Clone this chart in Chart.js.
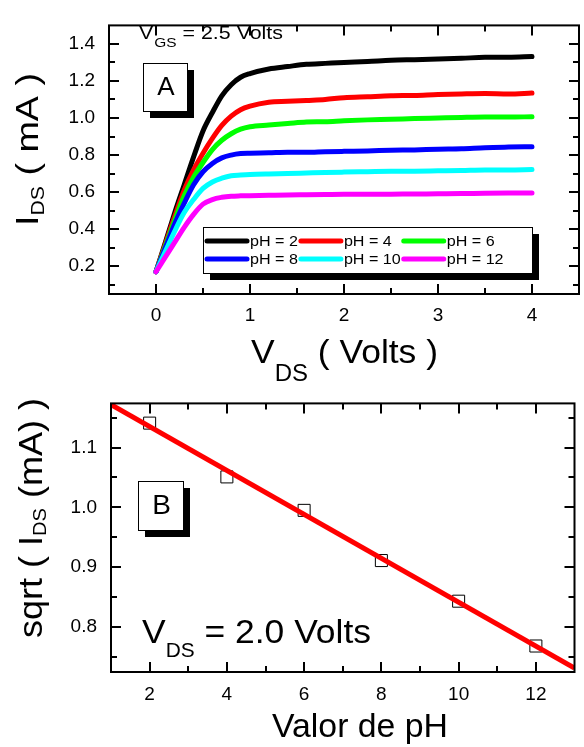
<!DOCTYPE html>
<html>
<head>
<meta charset="utf-8">
<script src="https://cdn.jsdelivr.net/npm/chart.js@4.4.1/dist/chart.umd.min.js"></script>
<style>
  html, body { margin: 0; padding: 0; background: #fff; }
  #wrap { position: relative; width: 584px; height: 747px; overflow: hidden; }
  canvas { position: absolute; left: 0; }
</style>
</head>
<body>
<div id="wrap">
  <canvas id="chartA" width="584" height="390" style="top:0px"></canvas>
  <canvas id="chartB" width="584" height="369" style="top:378px"></canvas>
</div>
<script>
// ---- panel A : I_DS vs V_DS for each pH ----
const vdsVolts = [0, 0.1, 0.2, 0.3, 0.4, 0.5, 0.6, 0.7, 0.8, 0.9, 1.0, 1.2, 1.4, 1.6, 1.8, 2.0, 2.25, 2.5, 2.75, 3.0, 3.25, 3.5, 3.75, 4.0];
const idsPH2  = [0.17, 0.33, 0.49, 0.64, 0.79, 0.93, 1.03, 1.12, 1.18, 1.22, 1.24, 1.265, 1.278, 1.29, 1.295, 1.30, 1.305, 1.312, 1.315, 1.318, 1.322, 1.328, 1.328, 1.332];
const idsPH4  = [0.17, 0.32, 0.47, 0.61, 0.72, 0.81, 0.89, 0.96, 1.01, 1.045, 1.064, 1.085, 1.09, 1.095, 1.10, 1.11, 1.115, 1.12, 1.122, 1.127, 1.13, 1.132, 1.13, 1.135];
const idsPH6  = [0.17, 0.31, 0.45, 0.58, 0.68, 0.76, 0.83, 0.88, 0.915, 0.94, 0.953, 0.962, 0.97, 0.978, 0.98, 0.985, 0.99, 0.993, 0.997, 1.0, 1.003, 1.005, 1.005, 1.007];
const idsPH8  = [0.17, 0.30, 0.43, 0.54, 0.64, 0.71, 0.755, 0.785, 0.80, 0.808, 0.81, 0.812, 0.815, 0.815, 0.818, 0.82, 0.822, 0.826, 0.828, 0.832, 0.834, 0.84, 0.843, 0.845];
const idsPH10 = [0.17, 0.28, 0.39, 0.49, 0.56, 0.62, 0.655, 0.675, 0.688, 0.692, 0.695, 0.698, 0.70, 0.703, 0.706, 0.708, 0.71, 0.712, 0.713, 0.715, 0.717, 0.72, 0.72, 0.722];
const idsPH12 = [0.17, 0.25, 0.33, 0.41, 0.48, 0.535, 0.56, 0.572, 0.578, 0.58, 0.581, 0.583, 0.585, 0.586, 0.587, 0.588, 0.588, 0.589, 0.59, 0.591, 0.592, 0.594, 0.595, 0.595];
const seriesLabels = ["pH = 2", "pH = 4", "pH = 6", "pH = 8", "pH = 10", "pH = 12"];

const vdsTicks = [0, 1, 2, 3, 4];
const vdsMinor = [0.5, 1.5, 2.5, 3.5];
const idsTicks = [0.2, 0.4, 0.6, 0.8, 1.0, 1.2, 1.4];
const idsMinor = [0.1, 0.3, 0.5, 0.7, 0.9, 1.1, 1.3];

// ---- panel B : sqrt(I_DS) vs pH ----
const phValues = [2, 4, 6, 8, 10, 12];
const sqrtIds  = [1.141, 1.051, 0.995, 0.911, 0.843, 0.768];
const fitPH    = [1, 13];
const fitSqrt  = [1.172, 0.731];

const phTicks   = [2, 4, 6, 8, 10, 12];
const phMinor   = [3, 5, 7, 9, 11];
const sqrtTicks = [0.8, 0.9, 1.0, 1.1];
const sqrtMinor = [0.75, 0.85, 0.95, 1.05, 1.15];

const FONT = '"Liberation Sans", Arial, Helvetica, sans-serif';
Chart.defaults.font.family = FONT;
Chart.defaults.color = "#000";

function fixedTicks(values) {
  return function (axis) { axis.ticks = values.map(v => ({ value: v })); };
}

// text made of pieces: [text, size, baseline shift]; stretched to a given length
function drawRich(ctx, parts, x, y, length, rotate) {
  ctx.save();
  ctx.translate(x, y);
  if (rotate) ctx.rotate(-Math.PI / 2);
  let w = 0;
  parts.forEach(p => { ctx.font = p[1] + "px " + FONT; w += ctx.measureText(p[0]).width; });
  ctx.scale(length / w, 1);
  ctx.fillStyle = "#000";
  ctx.textAlign = "left";
  ctx.textBaseline = "alphabetic";
  let cx = 0;
  parts.forEach(p => {
    ctx.font = p[1] + "px " + FONT;
    ctx.fillText(p[0], cx, p[2] || 0);
    cx += ctx.measureText(p[0]).width;
  });
  ctx.restore();
}

function shadowBox(ctx, x, y, w, h, off) {
  ctx.fillStyle = "#000";
  ctx.fillRect(x + off, y + off, w, h);
  ctx.fillStyle = "#fff";
  ctx.fillRect(x, y, w, h);
  ctx.strokeStyle = "#000";
  ctx.lineWidth = 1;
  ctx.strokeRect(x + 0.5, y + 0.5, w, h);
}

function boxLetter(ctx, letter, x, y, w, h, size) {
  shadowBox(ctx, x, y, w, h, 7);
  ctx.fillStyle = "#000";
  ctx.font = size + "px " + FONT;
  ctx.textAlign = "center";
  ctx.textBaseline = "middle";
  ctx.fillText(letter, x + w / 2 + 1, y + h / 2 + 1);
}

// frame on 4 sides with inward major/minor ticks
function makeFrame(xMajor, xMinor, yMajor, yMinor) {
  return {
    id: "frame",
    afterDatasetsDraw(chart) {
      const { ctx, chartArea: a, scales: { x, y } } = chart;
      ctx.save();
      ctx.strokeStyle = "#000";
      ctx.lineWidth = 2;
      ctx.strokeRect(a.left, a.top, a.right - a.left, a.bottom - a.top);
      ctx.beginPath();
      const xm = (vals, len) => vals.forEach(v => {
        const p = Math.round(x.getPixelForValue(v));
        ctx.moveTo(p, a.bottom); ctx.lineTo(p, a.bottom - len);
        ctx.moveTo(p, a.top); ctx.lineTo(p, a.top + len);
      });
      const ym = (vals, len) => vals.forEach(v => {
        const p = Math.round(y.getPixelForValue(v));
        ctx.moveTo(a.left, p); ctx.lineTo(a.left + len, p);
        ctx.moveTo(a.right, p); ctx.lineTo(a.right - len, p);
      });
      xm(xMajor, 10); xm(xMinor, 6);
      ym(yMajor, 10); ym(yMinor, 6);
      ctx.stroke();
      ctx.restore();
    }
  };
}

function axisBase(min, max, ticks, fitProp, fitSize, pad, fmt) {
  return {
    type: "linear",
    min: min,
    max: max,
    afterBuildTicks: fixedTicks(ticks),
    afterFit: s => { s[fitProp] = fitSize; },
    grid: { display: false, drawTicks: false },
    border: { display: false },
    ticks: { font: { size: 19 }, padding: pad, maxRotation: 0, autoSkip: false, callback: fmt }
  };
}

const colorsA = ["#000000", "#ff0000", "#00ff00", "#0000ff", "#00ffff", "#ff00ff"];
const seriesA = [idsPH2, idsPH4, idsPH6, idsPH8, idsPH10, idsPH12];

new Chart(document.getElementById("chartA"), {
  type: "scatter",
  data: {
    datasets: seriesA.map((vals, i) => ({
      label: seriesLabels[i],
      data: vals.map((v, j) => ({ x: vdsVolts[j], y: v })),
      showLine: true,
      borderColor: colorsA[i],
      backgroundColor: colorsA[i],
      borderWidth: 5,
      borderCapStyle: "round",
      borderJoinStyle: "round",
      pointRadius: 0,
      cubicInterpolationMode: "monotone",
      order: seriesA.length - i
    }))
  },
  options: {
    responsive: false,
    animation: false,
    layout: { padding: { top: 7, right: 5, left: 0, bottom: 0 } },
    plugins: { legend: { display: false }, tooltip: { enabled: false } },
    scales: {
      x: axisBase(-0.5, 4.5, vdsTicks, "height", 96, 10, v => String(v)),
      y: axisBase(0.05, 1.5, idsTicks, "width", 109, 14, v => v.toFixed(1))
    }
  },
  plugins: [
    makeFrame(vdsTicks, vdsMinor, idsTicks, idsMinor),
    {
      id: "notesA",
      afterDraw(chart) {
        const ctx = chart.ctx;
        ctx.save();
        // axis titles
        drawRich(ctx, [["V", 34], ["DS", 23, 18], [" ( Volts )", 34]], 251, 363, 187, false);
        drawRich(ctx, [["I", 32], ["DS", 18, 6], [" ( mA )", 32]], 38, 226, 153, true);
        // annotations
        drawRich(ctx, [["V", 18], [" ", 3], ["GS", 13, 8], [" = 2.5 Volts", 18]], 139, 39, 144, false);
        boxLetter(ctx, "A", 143, 63, 44, 48, 26);
        // legend: 3 columns x 2 rows
        const bx = 203, by = 227, bw = 329, bh = 46;
        shadowBox(ctx, bx, by, bw, bh, 7);
        const ds = chart.data.datasets;
        const lineLen = 42, sx = 1.15;
        ctx.font = "14px " + FONT;
        let colX = bx + 2;
        for (let c = 0; c < 3; c++) {
          let maxW = 0;
          for (let r = 0; r < 2; r++) {
            const d = ds[r * 3 + c];
            const ly = by + 14 + r * 18;
            ctx.strokeStyle = d.borderColor;
            ctx.lineWidth = 5;
            ctx.lineCap = "round";
            ctx.beginPath();
            ctx.moveTo(colX + 2, ly);
            ctx.lineTo(colX + lineLen, ly);
            ctx.stroke();
            ctx.save();
            ctx.translate(colX + lineLen + 3, ly + 5);
            ctx.scale(sx, 1);
            ctx.fillStyle = "#000";
            ctx.textAlign = "left";
            ctx.textBaseline = "alphabetic";
            ctx.fillText(d.label, 0, 0);
            ctx.restore();
            maxW = Math.max(maxW, ctx.measureText(d.label).width * sx);
          }
          colX += lineLen + 4 + maxW;
        }
        ctx.restore();
      }
    }
  ]
});

new Chart(document.getElementById("chartB"), {
  type: "scatter",
  data: {
    datasets: [
      {
        label: "fit",
        data: fitPH.map((v, i) => ({ x: v, y: fitSqrt[i] })),
        showLine: true,
        borderColor: "#ff0000",
        borderWidth: 5,
        pointRadius: 0,
        order: 0
      },
      {
        label: "sqrt(IDS)",
        data: phValues.map((v, i) => ({ x: v, y: sqrtIds[i] })),
        pointStyle: "rect",
        pointRadius: 8.5,
        backgroundColor: "rgba(255,255,255,0)",
        borderColor: "#000",
        borderWidth: 1,
        order: 1
      }
    ]
  },
  options: {
    responsive: false,
    animation: false,
    layout: { padding: { top: 8, right: 4, left: 0, bottom: 0 } },
    plugins: { legend: { display: false }, tooltip: { enabled: false } },
    scales: {
      x: axisBase(1, 13, phTicks, "height", 75, 11, v => String(v)),
      y: axisBase(0.7245, 1.174, sqrtTicks, "width", 111, 14, v => v.toFixed(1))
    }
  },
  plugins: [
    makeFrame(phTicks, phMinor, sqrtTicks, sqrtMinor),
    {
      id: "notesB",
      afterDraw(chart) {
        const ctx = chart.ctx;
        ctx.save();
        drawRich(ctx, [["Valor de pH", 33]], 272, 359, 176, false);
        drawRich(ctx, [["sqrt ( I", 34], ["DS", 19, 4], [" (mA) )", 34]], 42, 260, 240, true);
        drawRich(ctx, [["V", 34], ["DS", 20, 14], [" = 2.0 Volts", 34]], 142, 265, 229, false);
        boxLetter(ctx, "B", 138, 103, 45, 49, 28);
        ctx.restore();
      }
    }
  ]
});
</script>
</body>
</html>
